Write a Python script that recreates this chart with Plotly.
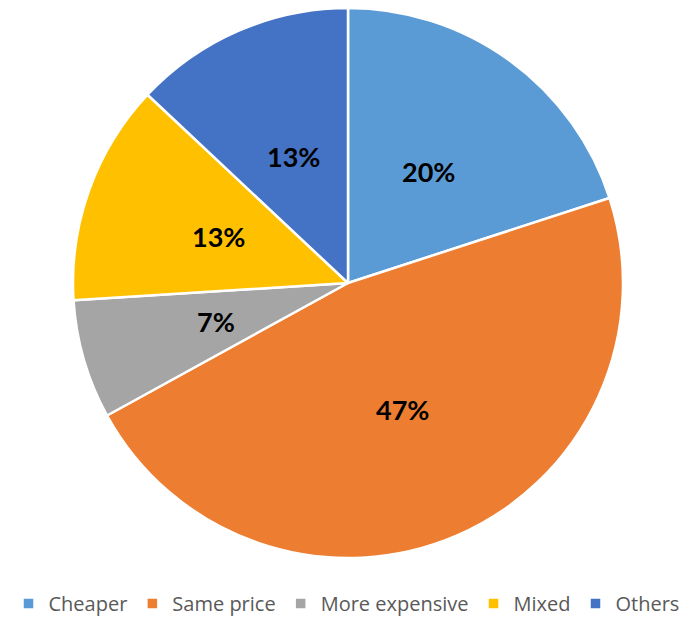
import math
import plotly.graph_objects as go

# Price comparison shares (percent of responses)
categories = ["Cheaper", "Same price", "More expensive", "Mixed", "Others"]
shares = [20, 47, 7, 13, 13]
colors = ["#5B9BD5", "#ED7D31", "#A5A5A5", "#FFC000", "#4472C4"]

W, H = 693, 623
cx, cy, r = 348, 283, 275

fig = go.Figure(
    go.Pie(
        labels=categories,
        values=shares,
        sort=False,
        direction="clockwise",
        rotation=0,
        marker=dict(colors=colors, line=dict(color="white", width=2.5)),
        textinfo="none",
        hoverinfo="label+percent",
        domain=dict(
            x=[(cx - r) / W, (cx + r) / W],
            y=[(H - cy - r) / H, (H - cy + r) / H],
        ),
    )
)

# Percentage labels placed halfway out along each slice's middle angle
total = sum(shares)
cum = 0
for val in shares:
    mid = (cum + val / 2) / total * 2 * math.pi
    cum += val
    x = cx + 0.5 * r * math.sin(mid)
    y = cy - 0.5 * r * math.cos(mid)
    fig.add_annotation(
        x=x / W,
        y=1 - y / H,
        xref="paper",
        yref="paper",
        text=f"<b>{round(val / total * 100)}%</b>",
        showarrow=False,
        font=dict(family="Lato", size=27, color="black"),
        xanchor="center",
        yanchor="middle",
    )

fig.update_layout(
    width=W,
    height=H,
    margin=dict(l=0, r=0, t=0, b=0, autoexpand=False),
    paper_bgcolor="white",
    plot_bgcolor="white",
    showlegend=True,
    legend=dict(
        orientation="h",
        x=0.5,
        xanchor="center",
        y=0,
        yanchor="bottom",
        font=dict(family="Open Sans", size=20, color="#595959"),
        itemwidth=30,
        tracegroupgap=0,
    ),
)

fig.write_html("out.html")
